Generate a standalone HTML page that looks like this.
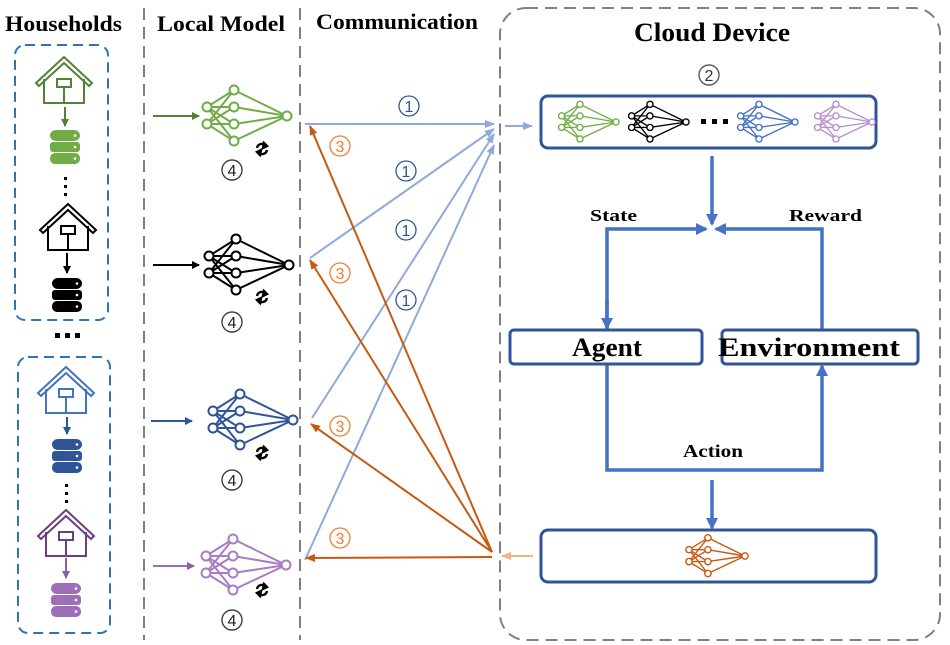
<!DOCTYPE html>
<html><head><meta charset="utf-8"><style>
body{margin:0;background:#fff}
svg{display:block}
text{font-family:"Liberation Serif",serif;font-weight:bold}
.n{font-family:"Liberation Sans",sans-serif;font-weight:normal}
</style></head><body>
<svg width="950" height="645" viewBox="0 0 950 645" xmlns="http://www.w3.org/2000/svg">
<defs>
<g id="net" fill="#fff" stroke-width="2">
<path d="M-80,-9L-53,-26M-80,-9L-53,-9M-80,-9L-53,8M-80,-9L-53,25M-80,8L-53,-26M-80,8L-53,-9M-80,8L-53,8M-80,8L-53,25M-53,-26L0,0M-53,-9L0,0M-53,8L0,0M-53,25L0,0" fill="none"/>
<circle cx="-80" cy="-9" r="4.5"/><circle cx="-80" cy="8" r="4.5"/>
<circle cx="-53" cy="-26" r="4.5"/><circle cx="-53" cy="-9" r="4.5"/><circle cx="-53" cy="8" r="4.5"/><circle cx="-53" cy="25" r="4.5"/>
<circle cx="0" cy="0" r="4.5"/>
</g>
<g id="house" fill="#fff" stroke-width="2">
<path d="M-28,-2 L0,-28 L28,-2 L25,1 L0,-22 L-25,1 Z"/>
<path d="M-20,-6 V18 H20 V-6" fill="none"/>
<rect x="-7" y="-6" width="14" height="8"/>
<path d="M0,2 V18" fill="none"/>
</g>
<g id="db">
<rect x="-15" y="-17" width="30" height="11" rx="6"/>
<rect x="-15" y="-5" width="30" height="10" rx="3"/>
<rect x="-15" y="6" width="30" height="11" rx="5"/>
<circle cx="10" cy="-11.5" r="1.3" fill="#fff"/><circle cx="10" cy="0" r="1.3" fill="#fff"/><circle cx="10" cy="11.5" r="1.3" fill="#fff"/>
</g>
<g id="ref" fill="none" stroke="#000" stroke-width="2.4">
<path d="M-5,-1 A5,5 0 0 1 4,-3"/><path d="M5,1 A5,5 0 0 1 -4,3"/>
<path d="M2,-6 L5,-3 L1,-1Z" fill="#000"/><path d="M-2,6 L-5,3 L-1,1Z" fill="#000"/>
</g>
<marker id="ag" markerWidth="8" markerHeight="8" refX="7" refY="4" orient="auto" markerUnits="userSpaceOnUse"><path d="M0,0L8,4L0,8Z" fill="#548235"/></marker>
<marker id="ak" markerWidth="8" markerHeight="8" refX="7" refY="4" orient="auto" markerUnits="userSpaceOnUse"><path d="M0,0L8,4L0,8Z" fill="#000"/></marker>
<marker id="ab" markerWidth="8" markerHeight="8" refX="7" refY="4" orient="auto" markerUnits="userSpaceOnUse"><path d="M0,0L8,4L0,8Z" fill="#2f5597"/></marker>
<marker id="ap" markerWidth="8" markerHeight="8" refX="7" refY="4" orient="auto" markerUnits="userSpaceOnUse"><path d="M0,0L8,4L0,8Z" fill="#8e5ea2"/></marker>
<marker id="al" markerWidth="10" markerHeight="8" refX="9" refY="4" orient="auto" markerUnits="userSpaceOnUse"><path d="M0,0L10,4L0,8Z" fill="#8eaadb"/></marker>
<marker id="ao" markerWidth="10" markerHeight="8" refX="9" refY="4" orient="auto" markerUnits="userSpaceOnUse"><path d="M0,0L10,4L0,8Z" fill="#c55a11"/></marker>
<marker id="apo" markerWidth="10" markerHeight="8" refX="9" refY="4" orient="auto" markerUnits="userSpaceOnUse"><path d="M0,0L10,4L0,8Z" fill="#f4b183"/></marker>
<marker id="abl" markerWidth="12" markerHeight="12" refX="10" refY="6" orient="auto" markerUnits="userSpaceOnUse"><path d="M0,0L12,6L0,12Z" fill="#4472c4"/></marker>
</defs>

<!-- headers -->
<text x="5" y="31" font-size="22" textLength="117" lengthAdjust="spacingAndGlyphs">Households</text>
<text x="157" y="31" font-size="22" textLength="128" lengthAdjust="spacingAndGlyphs">Local Model</text>
<text x="316" y="29" font-size="22" textLength="162" lengthAdjust="spacingAndGlyphs">Communication</text>

<!-- separators -->
<line x1="144" y1="8" x2="144" y2="640" stroke="#808080" stroke-width="2" stroke-dasharray="12,7"/>
<line x1="300" y1="8" x2="300" y2="640" stroke="#808080" stroke-width="2" stroke-dasharray="12,7"/>

<!-- household boxes -->
<rect x="15" y="45" width="93" height="275" rx="10" fill="none" stroke="#2e75b6" stroke-width="2" stroke-dasharray="10,6"/>
<rect x="18" y="357" width="92" height="276" rx="10" fill="none" stroke="#2e75b6" stroke-width="2" stroke-dasharray="10,6"/>

<use href="#house" x="64" y="85" stroke="#548235"/>
<line x1="65" y1="107" x2="65" y2="126" stroke="#548235" stroke-width="2" marker-end="url(#ag)"/>
<use href="#db" x="65" y="147" fill="#70ad47"/>
<g fill="#000"><rect x="64" y="177" width="3" height="3"/><rect x="64" y="185" width="3" height="3"/><rect x="64" y="193" width="3" height="3"/></g>
<use href="#house" x="68" y="232" stroke="#000"/>
<line x1="67" y1="253" x2="67" y2="273" stroke="#000" stroke-width="2" marker-end="url(#ak)"/>
<use href="#db" x="67" y="295" fill="#000"/>
<g fill="#000"><rect x="55" y="333" width="5" height="5"/><rect x="65" y="333" width="5" height="5"/><rect x="75" y="333" width="5" height="5"/></g>

<use href="#house" x="66" y="395" stroke="#4472c4"/>
<line x1="67" y1="417" x2="67" y2="434" stroke="#2f5597" stroke-width="2" marker-end="url(#ab)"/>
<use href="#db" x="67" y="456" fill="#2f5597"/>
<g fill="#000"><rect x="65" y="484" width="3" height="3"/><rect x="65" y="492" width="3" height="3"/><rect x="65" y="500" width="3" height="3"/></g>
<use href="#house" x="66" y="538" stroke="#6b3f7e"/>
<line x1="66" y1="558" x2="66" y2="578" stroke="#8e5ea2" stroke-width="2" marker-end="url(#ap)"/>
<use href="#db" x="66" y="600" fill="#9e6fb8"/>

<!-- local models -->
<line x1="153" y1="116" x2="199" y2="116" stroke="#548235" stroke-width="2" marker-end="url(#ag)"/>
<use href="#net" x="287" y="116" stroke="#70ad47"/>
<line x1="153" y1="265" x2="199" y2="265" stroke="#000" stroke-width="2" marker-end="url(#ak)"/>
<use href="#net" x="289" y="265" stroke="#000"/>
<line x1="151" y1="421" x2="192" y2="421" stroke="#2f5597" stroke-width="2" marker-end="url(#ab)"/>
<use href="#net" x="293" y="420" stroke="#2f5597"/>
<line x1="153" y1="566" x2="194" y2="566" stroke="#9e6fb8" stroke-width="2" marker-end="url(#ap)"/>
<use href="#net" x="286" y="565" stroke="#a97cc4"/>

<use href="#ref" x="262" y="149"/><use href="#ref" x="262" y="297"/><use href="#ref" x="262" y="453"/><use href="#ref" x="262" y="590"/>
<g fill="none" stroke="#404040" stroke-width="1.4">
<circle cx="232" cy="170" r="10"/><circle cx="232" cy="322" r="10"/><circle cx="232" cy="480" r="10"/><circle cx="232" cy="620" r="10"/></g>
<g font-size="16" text-anchor="middle" fill="#222">
<text class="n" x="232" y="176">4</text><text class="n" x="232" y="328">4</text><text class="n" x="232" y="486">4</text><text class="n" x="232" y="626">4</text></g>

<!-- communication -->
<g stroke="#8eaadb" stroke-width="2" fill="none">
<line x1="305" y1="124" x2="494" y2="124" marker-end="url(#al)"/>
<line x1="310" y1="258" x2="494" y2="129" marker-end="url(#al)"/>
<line x1="312" y1="418" x2="494" y2="134" marker-end="url(#al)"/>
<line x1="305" y1="560" x2="494" y2="145" marker-end="url(#al)"/>
</g>
<g stroke="#c55a11" stroke-width="2" fill="none">
<line x1="492" y1="552" x2="310" y2="126" marker-end="url(#ao)"/>
<line x1="492" y1="552" x2="310" y2="260" marker-end="url(#ao)"/>
<line x1="492" y1="552" x2="311" y2="424" marker-end="url(#ao)"/>
<line x1="492" y1="557" x2="306" y2="558" marker-end="url(#ao)"/>
</g>
<g fill="#fff" stroke="#2f5597" stroke-width="1.3">
<circle cx="409" cy="106" r="10"/><circle cx="406" cy="171" r="10"/><circle cx="406" cy="230" r="10"/><circle cx="406" cy="300" r="10"/></g>
<g fill="#2f5597" font-size="16" text-anchor="middle">
<text class="n" x="409" y="112">1</text><text class="n" x="406" y="177">1</text><text class="n" x="406" y="236">1</text><text class="n" x="406" y="306">1</text></g>
<g fill="#fff" stroke="#ed7d31" stroke-width="1.3">
<circle cx="340" cy="146" r="10"/><circle cx="340" cy="273" r="10"/><circle cx="340" cy="426" r="10"/><circle cx="340" cy="538" r="10"/></g>
<g fill="#ed7d31" font-size="16" text-anchor="middle">
<text class="n" x="340" y="152">3</text><text class="n" x="340" y="279">3</text><text class="n" x="340" y="432">3</text><text class="n" x="340" y="544">3</text></g>

<!-- cloud -->
<rect x="500" y="8" width="440" height="632" rx="26" fill="none" stroke="#808080" stroke-width="2" stroke-dasharray="12,7"/>
<text x="634" y="41" font-size="26" textLength="156" lengthAdjust="spacingAndGlyphs">Cloud Device</text>
<circle cx="709" cy="75" r="10" fill="none" stroke="#595959" stroke-width="1.4"/>
<text class="n" x="709" y="81" font-size="16" text-anchor="middle" fill="#333">2</text>
<line x1="505" y1="126" x2="532" y2="126" stroke="#8eaadb" stroke-width="2" marker-end="url(#al)"/>
<rect x="541" y="96" width="335" height="52" rx="7" fill="none" stroke="#2f5597" stroke-width="3"/>
<use href="#net" stroke="#70ad47" transform="translate(616 122) scale(0.68)"/>
<use href="#net" stroke="#000" transform="translate(686 122) scale(0.68)"/>
<g fill="#000"><rect x="701" y="119" width="5" height="5"/><rect x="712" y="119" width="5" height="5"/><rect x="723" y="119" width="5" height="5"/></g>
<use href="#net" stroke="#4472c4" transform="translate(795 122) scale(0.68)"/>
<use href="#net" stroke="#b98fd0" transform="translate(872 122) scale(0.68)"/>

<g stroke="#4472c4" stroke-width="3.5" fill="none">
<line x1="712" y1="156" x2="712" y2="224" marker-end="url(#abl)"/>
<polyline points="607,330 607,229 706,229" marker-end="url(#abl)"/>
<line x1="607" y1="300" x2="607" y2="328" marker-end="url(#abl)"/>
<polyline points="822,330 822,229 716,229" marker-end="url(#abl)"/>
<polyline points="607,364 607,470 822,470 822,366" marker-end="url(#abl)"/>
<line x1="712" y1="480" x2="712" y2="528" marker-end="url(#abl)"/>
</g>
<text x="590" y="221" font-size="17" textLength="47" lengthAdjust="spacingAndGlyphs">State</text>
<text x="789" y="221" font-size="17" textLength="73" lengthAdjust="spacingAndGlyphs">Reward</text>
<text x="683" y="457" font-size="18" textLength="60" lengthAdjust="spacingAndGlyphs">Action</text>
<rect x="510" y="330" width="192" height="34" rx="4" fill="#fff" stroke="#2f5597" stroke-width="3"/>
<text x="572" y="356" font-size="26" textLength="70" lengthAdjust="spacingAndGlyphs">Agent</text>
<rect x="722" y="330" width="196" height="34" rx="4" fill="#fff" stroke="#2f5597" stroke-width="3"/>
<text x="718" y="356" font-size="26" textLength="182" lengthAdjust="spacingAndGlyphs">Environment</text>

<rect x="541" y="530" width="335" height="52" rx="7" fill="none" stroke="#2f5597" stroke-width="3"/>
<use href="#net" stroke="#c55a11" transform="translate(745 556) scale(0.7)"/>
<line x1="533" y1="556" x2="502" y2="556" stroke="#f4b183" stroke-width="2" marker-end="url(#apo)"/>
</svg>
</body></html>
